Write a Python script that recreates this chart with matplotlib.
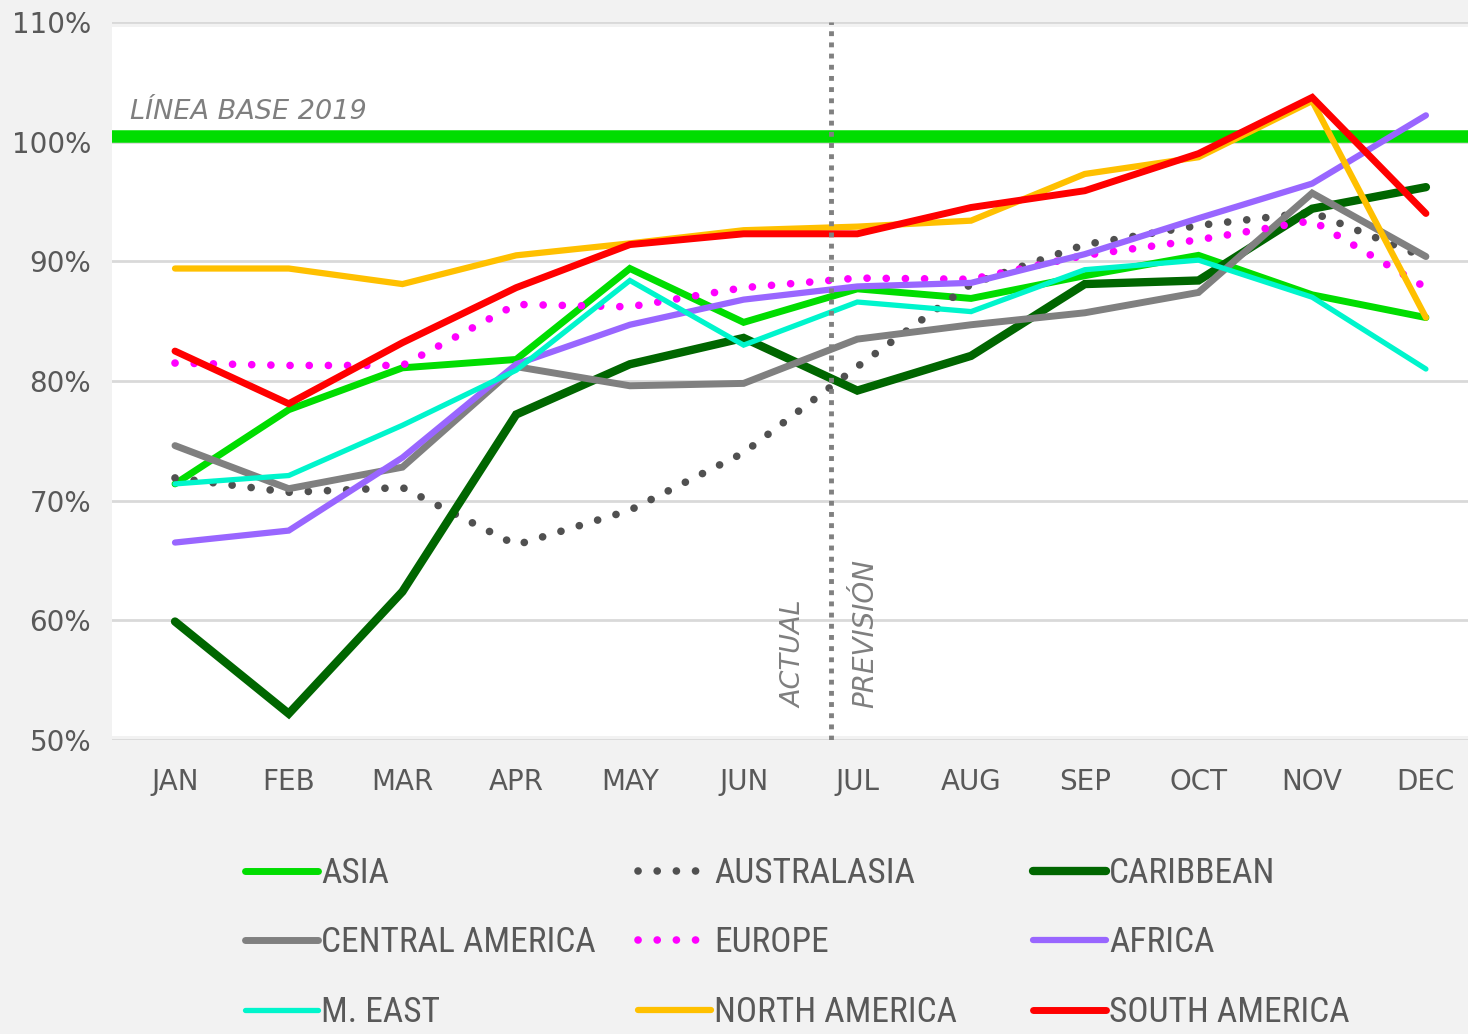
import matplotlib
matplotlib.use('Agg')
import matplotlib.pyplot as plt
from matplotlib import font_manager
from matplotlib.patches import Rectangle

months = ['JAN', 'FEB', 'MAR', 'APR', 'MAY', 'JUN', 'JUL', 'AUG', 'SEP', 'OCT', 'NOV', 'DEC']

asia = [71.4, 77.6, 81.1, 81.8, 89.4, 84.9, 87.7, 86.9, 88.8, 90.5, 87.2, 85.3]
australasia = [71.9, 70.7, 71.1, 66.3, 69.2, 74.0, 81.2, 88.1, 91.4, 93.0, 94.1, 90.3]
caribbean = [59.9, 52.2, 62.4, 77.2, 81.4, 83.6, 79.2, 82.1, 88.1, 88.4, 94.4, 96.2]
central_america = [74.6, 71.0, 72.8, 81.2, 79.6, 79.8, 83.5, 84.7, 85.7, 87.4, 95.7, 90.4]
europe = [81.5, 81.3, 81.3, 86.4, 86.2, 87.8, 88.6, 88.5, 90.5, 91.8, 93.4, 87.8]
africa = [66.5, 67.5, 73.6, 81.4, 84.7, 86.8, 87.9, 88.2, 90.6, 93.6, 96.5, 102.2]
m_east = [71.4, 72.1, 76.3, 80.9, 88.4, 83.0, 86.6, 85.8, 89.3, 90.1, 87.0, 81.0]
north_america = [89.4, 89.4, 88.1, 90.5, 91.5, 92.6, 92.9, 93.4, 97.3, 98.7, 103.4, 85.3]
south_america = [82.5, 78.1, 83.2, 87.8, 91.4, 92.3, 92.3, 94.5, 95.9, 99.0, 103.7, 94.0]

baseline_value = 100.5
split_position = 5.77  # between JUN and JUL

available = {f.name for f in font_manager.fontManager.ttflist}
main_font = 'DejaVu Sans'
legend_font = main_font
for cand in ['Roboto Condensed', 'Liberation Sans Narrow', 'Open Sans Condensed']:
    if cand in available:
        legend_font = cand
        break

plt.rcParams['font.family'] = [main_font]
text_color = '#595959'
bg = '#f2f2f2'

fig = plt.figure(figsize=(14.68, 10.34), dpi=100, facecolor=bg)
ax = fig.add_axes([112 / 1468, 1 - 740 / 1034, 1 - 112 / 1468, (740 - 22) / 1034])
ax.set_facecolor(bg)
ax.add_patch(Rectangle((0, 0.005), 1, 0.988, transform=ax.transAxes,
                       facecolor='white', edgecolor='none', zorder=0))

x = list(range(len(months)))

# linea base
ax.axhline(baseline_value, color='#00dd00', lw=9, zorder=2)

dots = (0, (0.01, 2.5))
series = [
    ('ASIA', asia, dict(color='#00dd00', lw=5.0)),
    ('AUSTRALASIA', australasia, dict(color='#505050', lw=5.5, linestyle=dots, dash_capstyle='round')),
    ('CARIBBEAN', caribbean, dict(color='#006600', lw=6.0)),
    ('CENTRAL AMERICA', central_america, dict(color='#808080', lw=5.0)),
    ('EUROPE', europe, dict(color='#ff00ff', lw=5.5, linestyle=dots, dash_capstyle='round')),
    ('AFRICA', africa, dict(color='#9966ff', lw=4.5)),
    ('M. EAST', m_east, dict(color='#00f5cc', lw=3.8)),
    ('NORTH AMERICA', north_america, dict(color='#ffc000', lw=4.5)),
    ('SOUTH AMERICA', south_america, dict(color='#ff0000', lw=5.0)),
]

handles = {}
for name, vals, style in series:
    line, = ax.plot(x, vals, label=name, solid_capstyle='round', solid_joinstyle='miter', zorder=3, **style)
    handles[name] = line

ax.axvline(split_position, color='#808080', lw=3.5, linestyle=(0, (1, 1.3)), zorder=4)

note_color = '#7f7f7f'
ax.text(-0.40, 101.9, 'LÍNEA BASE 2019', fontsize=19.5, style='italic', color=note_color, va='baseline', ha='left')
ax.text(5.45, 52.7, 'ACTUAL', fontsize=19.5, style='italic', color=note_color, rotation=90, ha='center', va='bottom')
ax.text(6.07, 52.7, 'PREVISIÓN', fontsize=20, style='italic', color=note_color, rotation=90, ha='center', va='bottom')

ax.set_xlim(-0.554, 11.37)
ax.set_ylim(50, 110)
ax.set_yticks([50, 60, 70, 80, 90, 100, 110])
ax.yaxis.set_major_formatter(lambda v, p: f'{v:.0f}%')
ax.set_xticks(x)
ax.set_xticklabels(months)
ax.tick_params(axis='both', length=0, labelsize=20, colors=text_color)
ax.tick_params(axis='y', pad=15)
ax.tick_params(axis='x', pad=20)
ax.grid(axis='y', color='#d9d9d9', lw=2)
ax.set_axisbelow(True)
for s in ax.spines.values():
    s.set_visible(False)

columns = [
    (245, ['ASIA', 'CENTRAL AMERICA', 'M. EAST']),
    (638, ['AUSTRALASIA', 'EUROPE', 'NORTH AMERICA']),
    (1033, ['CARIBBEAN', 'AFRICA', 'SOUTH AMERICA']),
]
for xpix, names in columns:
    leg = fig.legend([handles[n] for n in names], names, loc='upper left',
                     bbox_to_anchor=(xpix / 1468, 1 - 857 / 1034), frameon=False,
                     prop={'family': legend_font, 'size': 25.5}, labelcolor=text_color,
                     handlelength=2.05, handletextpad=0.1, labelspacing=1.03,
                     borderaxespad=0, borderpad=0)

fig.savefig('out.png', dpi=100, facecolor=bg)
